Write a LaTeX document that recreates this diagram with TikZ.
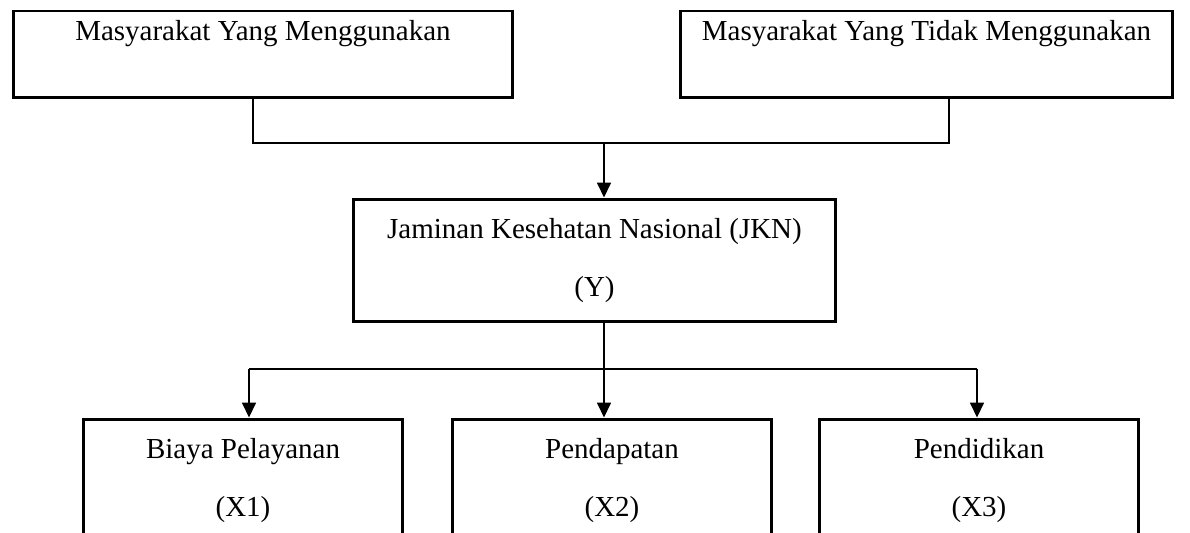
\documentclass[tikz,border=0pt]{standalone}
\usepackage{fontspec}
\setmainfont{Liberation Serif}
\usetikzlibrary{arrows.meta}
\tikzset{
  kotak/.style={
    draw,
    line width=1.7pt,
    align=center,
    inner sep=0pt
  }
}
\tikzset{
  garis/.style={
    line width=1pt
  },
  panah/.style={
    line width=1pt,
    -{Triangle[width=0.28cm, length=0.3cm]}
  }
}

\begin{document}
\begin{tikzpicture}[x=0.02cm, y=-0.02cm, every node/.style={font=\fontsize{16.5}{33}\selectfont}]
\useasboundingbox (0,0) rectangle (1190,533);
\clip (0,0) rectangle (1190,533);
\newcommand\YTop{54.5}
\newcommand\YMid{260.5}
\newcommand\YBot{481}
\node[kotak, minimum width=10cm, minimum height=1.74cm, text height=0.4cm, text depth=0.94cm] (Mpakai) at (263,\YTop) {Masyarakat Yang Menggunakan};
\node[kotak, minimum width=9.86cm, minimum height=1.74cm, text height=0.4cm, text depth=0.94cm] (Mtidak) at (926.5,\YTop) {Masyarakat Yang Tidak Menggunakan};
\node[kotak, minimum width=9.66cm, minimum height=2.46cm] (JKN) at (594.5,\YMid) {Jaminan Kesehatan Nasional (JKN)\\(Y)};
\node[kotak, minimum width=6.4cm, minimum height=2.48cm] (X1) at (243,\YBot) {Biaya Pelayanan\\(X1)};
\node[kotak, minimum width=6.4cm, minimum height=2.48cm] (X2) at (612,\YBot) {Pendapatan\\(X2)};
\node[kotak, minimum width=6.4cm, minimum height=2.48cm] (X3) at (979,\YBot) {Pendidikan\\(X3)};

\coordinate (Ltop) at (253,143);
\coordinate (Rtop) at (949,143);
\coordinate (Mtop) at (604,143);
\coordinate (Lbot) at (249,369);
\coordinate (Rbot) at (977,369);

\draw[garis] (Mpakai.south -| Ltop) -- (Ltop) -- (Rtop) -- (Mtidak.south -| Rtop);
\draw[panah] (Mtop) -- (JKN.north -| Mtop);
\draw[panah] (JKN.south -| Mtop) -- (X2.north -| Mtop);
\draw[garis] (Lbot) -- (Rbot);
\draw[panah] (Lbot) -- (X1.north -| Lbot);
\draw[panah] (Rbot) -- (X3.north -| Rbot);
\end{tikzpicture}
\end{document}
